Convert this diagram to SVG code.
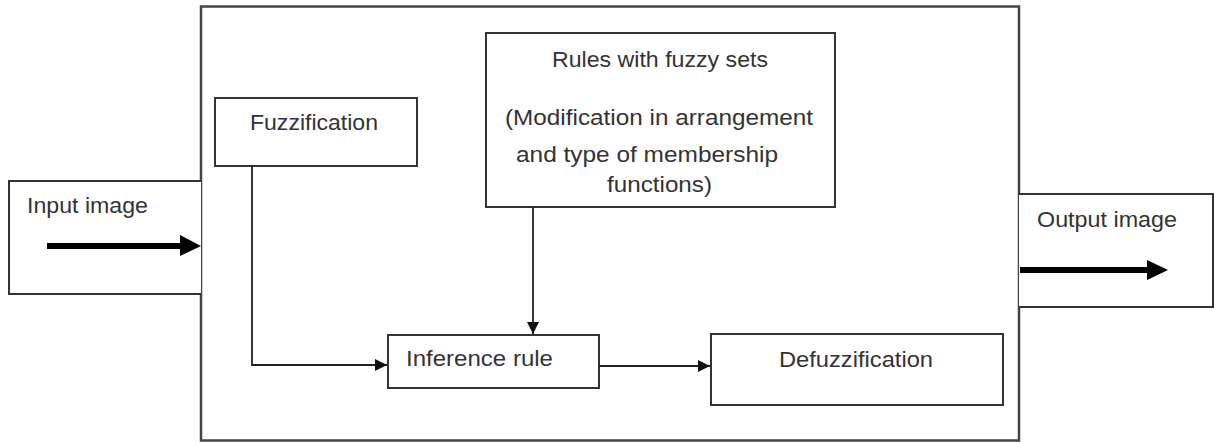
<svg xmlns="http://www.w3.org/2000/svg" width="1214" height="442" viewBox="0 0 1214 442">
<style>
.box{fill:#fff;stroke:#333;stroke-width:2}
.frame{fill:none;stroke:#444;stroke-width:2.5}
.lbl{font-family:"Liberation Sans",Arial,sans-serif;font-size:22px;fill:#333}
.conn{fill:none;stroke:#222;stroke-width:1.8}
.thick{fill:none;stroke:#000;stroke-width:6}
</style>
<defs>
<marker id="ah" markerUnits="userSpaceOnUse" markerWidth="12" markerHeight="12" refX="12" refY="6" orient="auto">
<path d="M0,0 L12,6 L0,12 Z" fill="#111"/>
</marker>
</defs>
<rect width="1214" height="442" fill="#fff"/>
<g id="main-frame"><rect class="frame" x="201" y="6.5" width="818" height="434"/></g>
<g id="input">
<path class="box" d="M201,181 H9 V294 H201"/>
<text class="lbl" x="27" y="213" textLength="121" lengthAdjust="spacingAndGlyphs">Input image</text>
<line class="thick" x1="47" y1="246" x2="183" y2="246"/>
<polygon points="180,235 201,246 180,256" fill="#000"/>
</g>
<g id="output">
<path class="box" d="M1019,194 H1213 V307 H1019"/>
<text class="lbl" x="1037" y="227" textLength="140" lengthAdjust="spacingAndGlyphs">Output image</text>
<line class="thick" x1="1020" y1="270" x2="1150" y2="270"/>
<polygon points="1147,260 1168,270 1147,280" fill="#000"/>
</g>
<g id="rules">
<rect class="box" x="486" y="33" width="349" height="174"/>
<text class="lbl" x="552" y="67" textLength="216" lengthAdjust="spacingAndGlyphs">Rules with fuzzy sets</text>
<text class="lbl" x="505" y="125" textLength="308" lengthAdjust="spacingAndGlyphs">(Modification in arrangement</text>
<text class="lbl" x="516" y="162" textLength="262" lengthAdjust="spacingAndGlyphs">and type of membership</text>
<text class="lbl" x="607" y="192" textLength="105" lengthAdjust="spacingAndGlyphs">functions)</text>
</g>
<g id="fuzzification">
<rect class="box" x="215" y="98" width="202" height="68"/>
<text class="lbl" x="250" y="130" textLength="128" lengthAdjust="spacingAndGlyphs">Fuzzification</text>
</g>
<g id="inference">
<rect class="box" x="388" y="335" width="211" height="53"/>
<text class="lbl" x="406" y="366" textLength="147" lengthAdjust="spacingAndGlyphs">Inference rule</text>
</g>
<g id="defuzzification">
<rect class="box" x="711" y="334" width="292" height="71"/>
<text class="lbl" x="779" y="367" textLength="154" lengthAdjust="spacingAndGlyphs">Defuzzification</text>
</g>
<g id="connectors">
<path class="conn" d="M252,166 V365 H387" marker-end="url(#ah)"/>
<path class="conn" d="M533,207 V334" marker-end="url(#ah)"/>
<path class="conn" d="M599,366 H710" marker-end="url(#ah)"/>
</g>
</svg>
